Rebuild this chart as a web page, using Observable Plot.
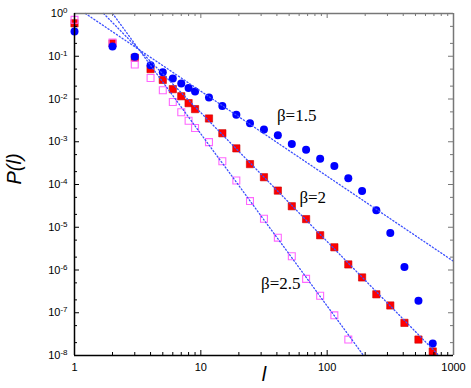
<!DOCTYPE html>
<html>
<head>
<meta charset="utf-8">
<script src="https://cdn.jsdelivr.net/npm/d3@7"></script>
<script src="https://cdn.jsdelivr.net/npm/@observablehq/plot@0.6"></script>
<style>
  html, body { margin: 0; padding: 0; background: white; }
</style>
</head>
<body>
<div id="chart"></div>
<script>
// x values (l) shared by the three series
const l = [1, 2, 3, 4, 5, 6, 7, 8, 9, 11.6, 14.8, 19.1, 24.5, 31.6, 40.7, 52.5, 68.1, 88, 114, 147, 189, 245, 316, 409, 528, 685];
// P(l) for β=1.5 (blue filled circles)
const pBeta15 = [0.38, 0.17, 0.098, 0.062, 0.042, 0.030, 0.023, 0.018, 0.015, 0.0108, 0.0069, 0.0043, 0.0027, 0.00194, 0.00142, 0.00089, 0.00065, 0.00040, 0.00027, 0.00014, 7.0e-5, 2.5e-5, 7.3e-6, 1.18e-6, 1.9e-7, 1.9e-8];
// P(l) for β=2 (red filled squares)
const pBeta2 = [0.59, 0.20, 0.092, 0.050, 0.028, 0.017, 0.0116, 0.0080, 0.0058, 0.0035, 0.00158, 7.0e-4, 3.0e-4, 1.48e-4, 7.2e-5, 3.1e-5, 1.55e-5, 6.5e-6, 3.4e-6, 1.35e-6, 6.7e-7, 2.7e-7, 1.48e-7, 5.8e-8, 2.36e-8, 1.24e-8];
// P(l) for β=2.5 (magenta open squares), first 20 l values
const pBeta25 = [0.71, 0.21, 0.064, 0.031, 0.016, 0.0085, 0.0049, 0.0031, 0.0021, 9.8e-4, 3.5e-4, 1.24e-4, 4.1e-5, 1.58e-5, 5.7e-6, 2.1e-6, 6.2e-7, 2.5e-7, 8.7e-8, 2.36e-8];

// dotted power-law guide lines (end points)
const fitNames = ["A", "A", "B", "B", "C", "C"];
const fitL = [1.22, 1000, 1.70, 766, 2.0, 194];
const fitP = [1, 1.6e-6, 1, 1e-8, 1, 1e-8];

// annotations
const labelText = ["β=1.5", "β=2", "β=2.5"];
const labelL = [57.4, 76.9, 42.9];
const labelP = [4.1e-3, 4.97e-5, 4.83e-7];

// ticks
const xMajor = [1, 10, 100, 1000];
const xMinor = [2, 3, 4, 5, 6, 7, 8, 9, 20, 30, 40, 50, 60, 70, 80, 90, 200, 300, 400, 500, 600, 700, 800, 900];
const yMajor = [1e-8, 1e-7, 1e-6, 1e-5, 1e-4, 1e-3, 1e-2, 1e-1, 1];
const yMinor = [2e-8, 5e-8, 2e-7, 5e-7, 2e-6, 5e-6, 2e-5, 5e-5, 2e-4, 5e-4, 2e-3, 5e-3, 2e-2, 5e-2, 2e-1, 5e-1];

const s15 = l.map((x, i) => ({l: x, p: pBeta15[i]}));
const s2 = l.map((x, i) => ({l: x, p: pBeta2[i]}));
const s25 = pBeta25.map((p, i) => ({l: l[i], p}));
const fits = fitL.map((x, i) => ({l: x, p: fitP[i], z: fitNames[i]}));
const labels = labelText.map((t, i) => ({t, l: labelL[i], p: labelP[i]}));

const W = 471, H = 388, mL = 74, mR = 18, mT = 13, mB = 33;
const innerW = W - mL - mR, innerH = H - mT - mB;
const dark = "#000", gray = "#777";

const chart = Plot.plot({
  width: W, height: H,
  marginLeft: mL, marginRight: mR, marginTop: mT, marginBottom: mB,
  style: {fontFamily: "'Liberation Sans', Arial, sans-serif", fontSize: "11px", background: "white", color: "black"},
  x: {type: "log", domain: [1, 1000]},
  y: {type: "log", domain: [1e-8, 1]},
  marks: [
    // data
    Plot.dot(s2, {x: "l", y: "p", symbol: "square", r: 4.1, fill: "#ff0000", stroke: "#c80000", strokeWidth: 0.6}),
    Plot.dot(s25, {x: "l", y: "p", symbol: "square", r: 3.9, fill: "none", stroke: "#ff66ff", strokeWidth: 1.1}),
    Plot.dot(s15, {x: "l", y: "p", r: 4, fill: "#0000ff"}),
    Plot.line(fits, {x: "l", y: "p", z: "z", stroke: "#3c50ff", strokeWidth: 1.3, strokeDasharray: "1.2,2.2"}),
    // ticks (inward)
    Plot.tickX(xMajor, {x: d => d, insetTop: innerH - 5, stroke: dark}),
    Plot.tickX(xMinor, {x: d => d, insetTop: innerH - 3, stroke: dark}),
    Plot.tickX(xMajor, {x: d => d, insetBottom: innerH - 5, stroke: gray}),
    Plot.tickX(xMinor, {x: d => d, insetBottom: innerH - 3, stroke: gray}),
    Plot.tickY(yMajor, {y: d => d, insetRight: innerW - 5, stroke: dark}),
    Plot.tickY(yMinor, {y: d => d, insetRight: innerW - 3, stroke: dark}),
    Plot.tickY(yMajor, {y: d => d, insetLeft: innerW - 5, stroke: gray}),
    Plot.tickY(yMinor, {y: d => d, insetLeft: innerW - 3, stroke: gray}),
    // frame
    Plot.ruleY([1], {stroke: gray, strokeWidth: 1.5}),
    Plot.ruleX([1000], {stroke: gray, strokeWidth: 1.5}),
    Plot.ruleX([1], {stroke: dark, strokeWidth: 1.5}),
    Plot.ruleY([1e-8], {stroke: dark, strokeWidth: 1.5}),
    // axes labels
    Plot.axisX({ticks: xMajor, tickSize: 0, tickPadding: 8, tickFormat: d => String(d), label: null, fontSize: 11}),
    Plot.axisY({ticks: yMajor, tickSize: 0, tickPadding: 7, tickFormat: d => "10^" + Math.round(Math.log10(d)), label: null, fontSize: 11}),
    // annotations
    Plot.text(labels, {x: "l", y: "p", text: "t", fontFamily: "'Liberation Serif', 'Times New Roman', serif", fontSize: 17, fill: "black"}),
    // axis titles
    Plot.text(["P(l)"], {frameAnchor: "left", dx: -60, rotate: -90, fontStyle: "italic", fontSize: 20, fill: "black"}),
    Plot.text(["l"], {frameAnchor: "bottom", dy: 25, fontStyle: "italic", fontSize: 20, fill: "black"})
  ]
});

// turn "10^n" labels into 10 with a superscript
d3.select(chart).selectAll('g[aria-label="y-axis tick label"] text').each(function () {
  const t = this.textContent;
  const m = t.match(/^10\^(.*)$/);
  if (!m) return;
  const sel = d3.select(this);
  sel.text(null);
  sel.append("tspan").text("10");
  sel.append("tspan").attr("dy", -4).attr("font-size", 8).text(m[1]);
});

document.getElementById("chart").appendChild(chart);
</script>
</body>
</html>
